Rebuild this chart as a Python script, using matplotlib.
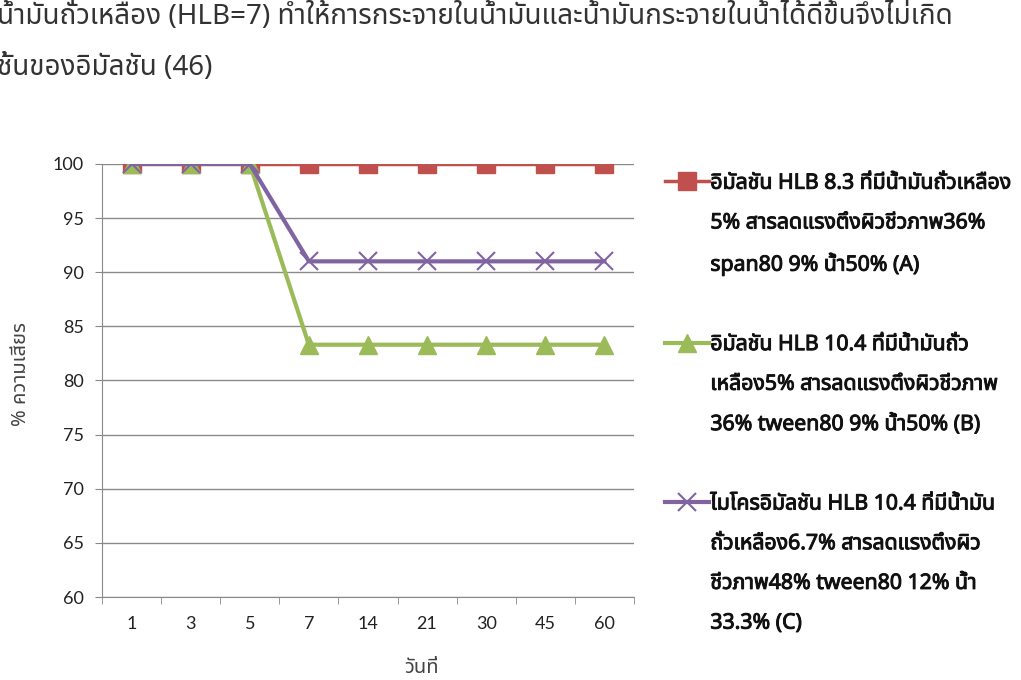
import matplotlib
matplotlib.use('Agg')
import matplotlib.pyplot as plt
import matplotlib.patheffects as pe
from matplotlib.lines import Line2D

thai = ['Noto Sans Thai', 'Tahoma', 'Loma', 'Garuda', 'DejaVu Sans']
plt.rcParams['font.family'] = thai

days = ['1', '3', '5', '7', '14', '21', '30', '45', '60']
spoil_a = [100, 100, 100, 100, 100, 100, 100, 100, 100]
spoil_b = [100, 100, 100, 83.3, 83.3, 83.3, 83.3, 83.3, 83.3]
spoil_c = [100, 100, 100, 91, 91, 91, 91, 91, 91]

label_a = ['อิมัลชัน HLB 8.3 ที่มีน้ำมันถั่วเหลือง',
           '5% สารลดแรงตึงผิวชีวภาพ36%',
           'span80 9% น้ำ50% (A)']
label_b = ['อิมัลชัน HLB 10.4 ที่มีน้ำมันถั่ว',
           'เหลือง5% สารลดแรงตึงผิวชีวภาพ',
           '36% tween80 9% น้ำ50% (B)']
label_c = ['ไมโครอิมัลชัน HLB 10.4 ที่มีน้ำมัน',
           'ถั่วเหลือง6.7% สารลดแรงตึงผิว',
           'ชีวภาพ48% tween80 12% น้ำ',
           '33.3% (C)']

fig = plt.figure(figsize=(10.21, 6.8), dpi=100)
ax = fig.add_axes([0.0999, 0.122, 0.521, 0.637])

x = range(len(days))
la, = ax.plot(x, spoil_a, color='#C0504D', lw=2.5, marker='s', ms=13,
              mec='#C0504D', zorder=3)
lb, = ax.plot(x, spoil_b, color='#9BBB59', lw=3, marker='^', ms=13,
              mec='#9BBB59', zorder=4)
lc, = ax.plot(x, spoil_c, color='#8064A2', lw=3, marker='x', ms=13,
              mew=1.5, zorder=5)

ax.set_xlim(-0.5, len(days) - 0.5)
ax.set_ylim(60, 100)
ax.set_yticks(range(60, 101, 5))
ax.set_xticks(list(x))
ax.set_xticklabels(days)
ax.set_xticks([i + 0.5 for i in range(-1, len(days))], minor=True)
ax.tick_params(axis='x', which='major', length=0, pad=14)
ax.tick_params(axis='x', which='minor', length=5, color='#888888')
ax.tick_params(axis='y', length=5, color='#888888', pad=8)
for lab in ax.get_xticklabels() + ax.get_yticklabels():
    lab.set_fontfamily('Lato')
    lab.set_fontsize(13)
    lab.set_color('#222222')

ax.grid(axis='y', color='#8a8a8a', lw=1)
ax.set_axisbelow(True)
for s in ['top', 'right']:
    ax.spines[s].set_visible(False)
for s in ['left', 'bottom']:
    ax.spines[s].set_color('#8a8a8a')

fig.text(0.0205, 0.45, '% ความเสียร', rotation=90, fontsize=14.5,
         ha='center', va='center', color='#444444')
fig.text(0.413, 0.018, 'วันที่', fontsize=14.5, ha='center', va='center',
         color='#444444')

# one legend row per text line, series handle only on the first line
blank = Line2D([], [], color='none')
handles, labels = [], []
for line, text in [(la, label_a), (lb, label_b), (lc, label_c)]:
    if handles:
        handles.append(blank)
        labels.append(' ')
    for i, t in enumerate(text):
        handles.append(line if i == 0 else blank)
        labels.append(t)

leg = fig.legend(handles, labels, loc='upper left',
                 bbox_to_anchor=(0.651, 0.746), frameon=False,
                 handlelength=2.1, handletextpad=0.05, labelspacing=0.88,
                 borderaxespad=0, borderpad=0,
                 prop={'size': 15.3})
for t in leg.get_texts():
    t.set_color('#111111')
    t.set_path_effects([pe.withStroke(linewidth=0.7, foreground='#111111')])

fig.text(-0.003, 0.975, 'น้ำมันถั่วเหลือง (HLB=7) ทำให้การกระจายในน้ำมันและน้ำมันกระจายในน้ำได้ดีขึ้นจึงไม่เกิด',
         fontsize=20, va='center', color='#333333')
fig.text(-0.003, 0.9, 'ชั้นของอิมัลชัน (46)', fontsize=20, va='center',
         color='#333333')

fig.savefig('out.png', dpi=100)
